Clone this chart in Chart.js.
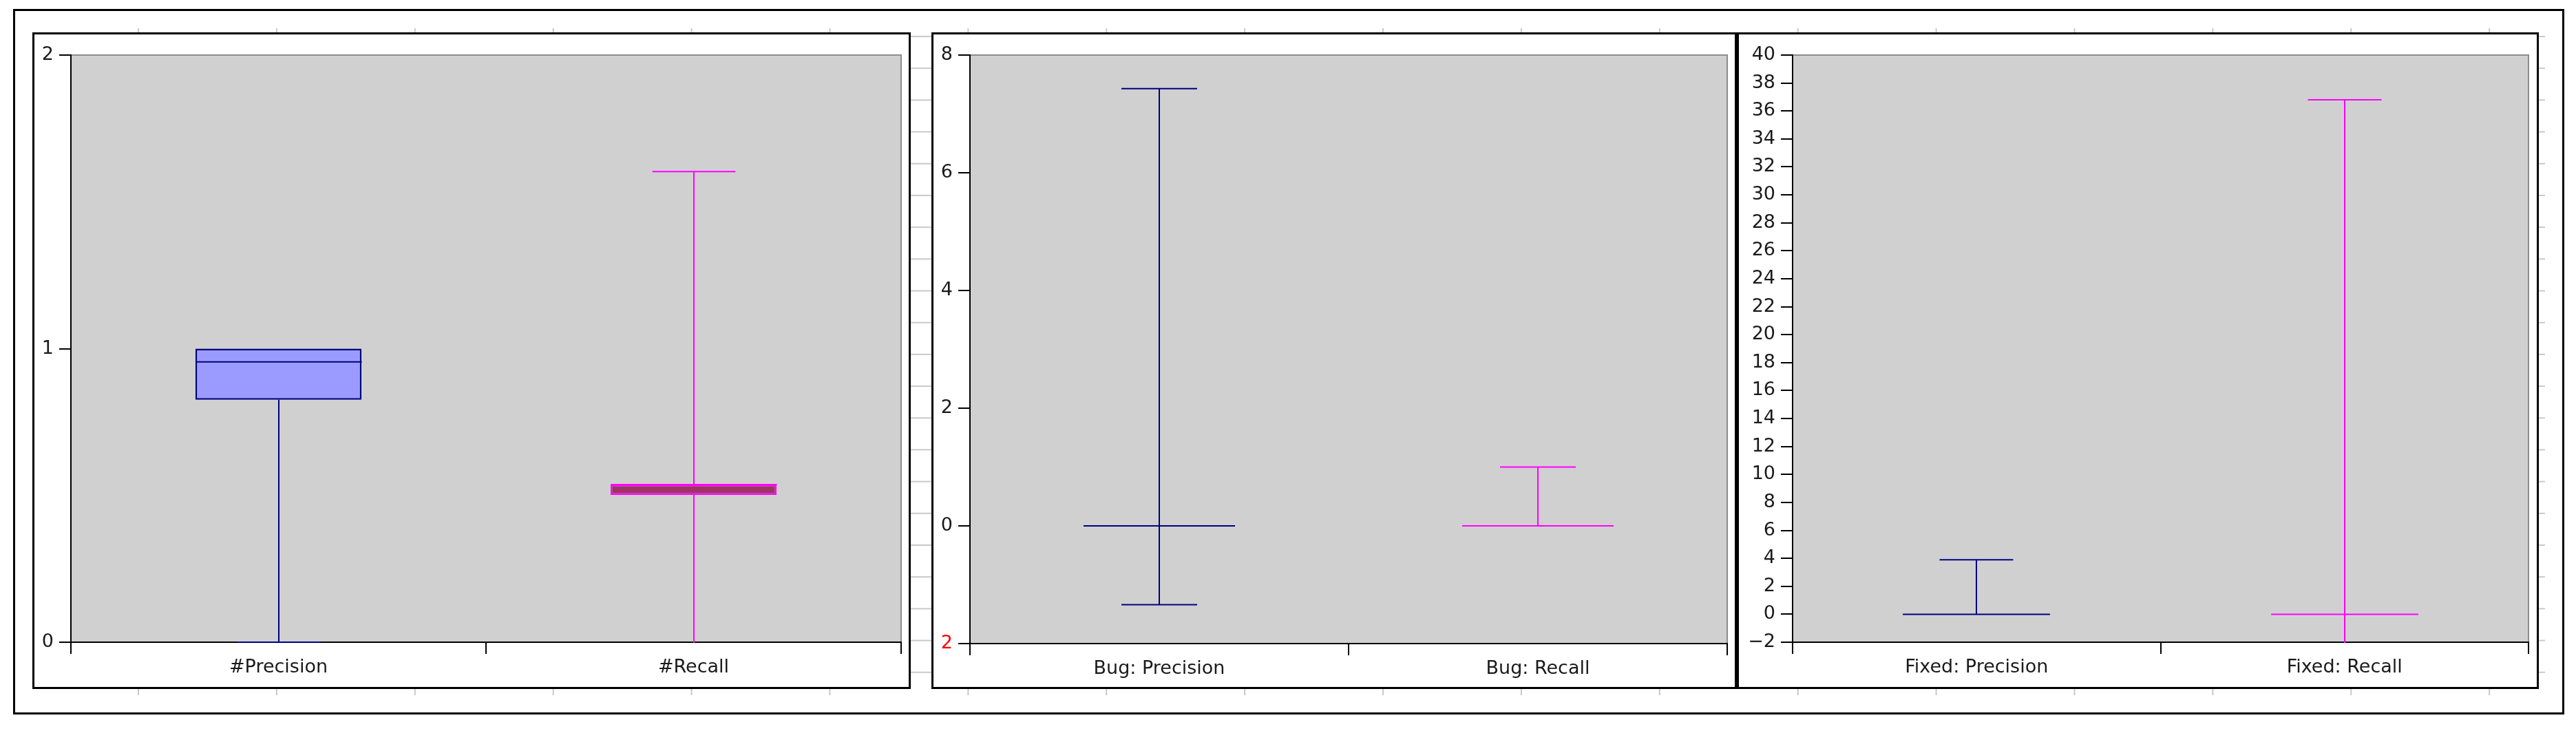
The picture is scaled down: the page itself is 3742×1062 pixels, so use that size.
<!DOCTYPE html>
<html>
<head>
<meta charset="utf-8">
<title>Precision / Recall</title>
<script src="https://cdn.jsdelivr.net/npm/chart.js@4.4.1/dist/chart.umd.min.js"></script>
<style>
    html, body { margin: 0; padding: 0; background: #fff; }
    body { position: relative; width: 3742px; height: 1062px; overflow: hidden; }
    .frame { position: absolute; left: 19px; top: 13px; width: 3706px; height: 1025px; box-sizing: border-box; border: 3px solid #000; }
    .backGrid {
        position: absolute; left: 47px; top: 41px; width: 3650px; height: 969px;
        background-image: linear-gradient(to right, #c8c8c8 2px, transparent 2px),
                          linear-gradient(to bottom, #c8c8c8 2px, transparent 2px);
        background-size: 200.9px 100%, 100% 46.2px;
        background-position: 153px 0, 0 11px;
    }
    .panel { position: absolute; top: 47px; height: 954px; box-sizing: border-box; border: 3px solid #000; background: #fff; }
    canvas { position: absolute; top: 50px; }
</style>
</head>
<body>
<div class="frame"></div>
<div class="backGrid"></div>
<div class="panel" style="left:47px; width:1276px;"></div>
<div class="panel" style="left:1353px; width:1170px;"></div>
<div class="panel" style="left:2523px; width:1165px;"></div>
<canvas id="overallChart" width="1270" height="948" style="left:50px;"></canvas>
<canvas id="bugChart" width="1164" height="948" style="left:1356px;"></canvas>
<canvas id="fixedChart" width="1159" height="948" style="left:2526px;"></canvas>

<script>
// Overall precision / recall
const overallLabels = ['#Precision', '#Recall'];
const overallMin = [0, -0.05];
const overallQ1 = [0.826, 0.502];
const overallMedian = [0.955, 0.537];
const overallQ3 = [1.0, 0.537];
const overallMax = [1.0, 1.603];
const overallTicks = [0, 1, 2];

// Bug precision / recall
const bugLabels = ['Bug: Precision', 'Bug: Recall'];
const bugMin = [-1.34, 0];
const bugQ1 = [0, 0];
const bugMedian = [0, 0];
const bugQ3 = [0, 0];
const bugMax = [7.43, 1.0];
const bugTicks = [-2, 0, 2, 4, 6, 8];

// Fixed precision / recall
const fixedLabels = ['Fixed: Precision', 'Fixed: Recall'];
const fixedMin = [0, -2.5];
const fixedQ1 = [0, 0];
const fixedMedian = [0, 0];
const fixedQ3 = [0, 0];
const fixedMax = [3.9, 36.8];
const fixedTicks = [-2, 0, 2, 4, 6, 8, 10, 12, 14, 16, 18, 20, 22, 24, 26, 28, 30, 32, 34, 36, 38, 40];

// Series colours (precision, recall)
const lineColors = ['#000080', '#ff00ff'];
const boxFills = ['#9b9bff', '#9e3366'];

const textColor = '#1a1a1a';
const font = { family: 'DejaVu Sans', size: 27 };

// Grey plot background with a thin frame on top and right
const plotBackground = {
    id: 'plotBackground',
    beforeDraw(chart) {
        const { ctx, chartArea: a } = chart;
        ctx.save();
        ctx.fillStyle = '#d0d0d0';
        ctx.fillRect(a.left, a.top, a.width, a.height);
        ctx.strokeStyle = '#8c8c8c';
        ctx.lineWidth = 2;
        ctx.beginPath();
        ctx.moveTo(a.left, a.top);
        ctx.lineTo(a.right, a.top);
        ctx.lineTo(a.right, a.bottom);
        ctx.stroke();
        ctx.restore();
    }
};

// Whiskers, caps and median lines drawn from the y scale
function whiskerPlugin(mins, q1, medians, q3, maxs) {
    return {
        id: 'whiskers',
        afterDatasetsDraw(chart) {
            const { ctx, chartArea: a, scales: { x, y } } = chart;
            const catW = x.width / mins.length;
            const line = (x0, y0, x1, y1) => {
                ctx.beginPath();
                ctx.moveTo(x0, y0);
                ctx.lineTo(x1, y1);
                ctx.stroke();
            };
            ctx.save();
            ctx.beginPath();
            ctx.rect(a.left, a.top - 2, a.width, a.height + 3);
            ctx.clip();
            ctx.lineWidth = 2;
            mins.forEach((mn, i) => {
                const cx = Math.round(x.getPixelForValue(i));
                const cap = catW * 0.1;
                const half = catW * 0.2;
                const yMin = y.getPixelForValue(mn);
                const yMax = y.getPixelForValue(maxs[i]);
                const yMed = y.getPixelForValue(medians[i]);
                ctx.strokeStyle = lineColors[i];
                // only draw a whisker (and its cap) where it leaves the box
                if (mn < q1[i]) {
                    line(cx, yMin, cx, y.getPixelForValue(q1[i]));
                    line(cx - cap, yMin, cx + cap, yMin);
                }
                if (maxs[i] > q3[i]) {
                    line(cx, y.getPixelForValue(q3[i]), cx, yMax);
                    line(cx - cap, yMax, cx + cap, yMax);
                }
                line(cx - half, yMed, cx + half, yMed);
            });
            ctx.restore();
        }
    };
}

function makePanel(id, labels, mins, q1, medians, q3, maxs, ticks, layout) {
    const ctx = document.getElementById(id).getContext('2d');
    return new Chart(ctx, {
        type: 'bar',
        data: {
            labels: labels,
            datasets: [{
                data: q1.map((v, i) => [v, q3[i]]),
                backgroundColor: boxFills,
                borderColor: lineColors,
                borderWidth: 2.5,
                borderSkipped: false,
                barPercentage: 0.4,
                categoryPercentage: 1.0
            }]
        },
        options: {
            responsive: false,
            animation: false,
            events: [],
            devicePixelRatio: 1,
            layout: { padding: { left: 0, top: 30, right: layout.right, bottom: 0 } },
            plugins: {
                legend: { display: false },
                tooltip: { enabled: false }
            },
            scales: {
                x: {
                    grid: { offset: true, drawOnChartArea: false, tickLength: 17, color: '#000', lineWidth: 2 },
                    border: { display: true, color: '#000', width: 2 },
                    ticks: { font: font, color: textColor, padding: 4, maxRotation: 0, autoSkip: false },
                    afterFit: s => { s.height = layout.xHeight; }
                },
                y: {
                    min: ticks[0],
                    max: ticks[ticks.length - 1],
                    afterBuildTicks: s => { s.ticks = ticks.map(v => ({ value: v })); },
                    grid: { drawOnChartArea: false, tickLength: 17, color: '#000', lineWidth: 2 },
                    border: { display: true, color: '#000', width: 2 },
                    ticks: {
                        font: font,
                        padding: 8,
                        autoSkip: false,
                        color: layout.tickColor || textColor,
                        callback: layout.format || (v => String(v))
                    },
                    afterFit: s => { s.width = layout.yWidth; }
                }
            }
        },
        plugins: [plotBackground, whiskerPlugin(mins, q1, medians, q3, maxs)]
    });
}

makePanel('overallChart', overallLabels, overallMin, overallQ1, overallMedian, overallQ3, overallMax, overallTicks,
    { yWidth: 53, right: 11, xHeight: 65 });

makePanel('bugChart', bugLabels, bugMin, bugQ1, bugMedian, bugQ3, bugMax, bugTicks, {
    yWidth: 53, right: 11, xHeight: 63,
    // lowest label is shown in red without its sign
    tickColor: c => (c.tick && c.tick.value === bugTicks[0]) ? '#ff0000' : textColor,
    format: v => v < 0 ? String(-v) : String(v)
});

makePanel('fixedChart', fixedLabels, fixedMin, fixedQ1, fixedMedian, fixedQ3, fixedMax, fixedTicks, {
    yWidth: 78, right: 12, xHeight: 65,
    format: v => v < 0 ? '\u2212' + (-v) : String(v)
});
</script>
</body>
</html>
